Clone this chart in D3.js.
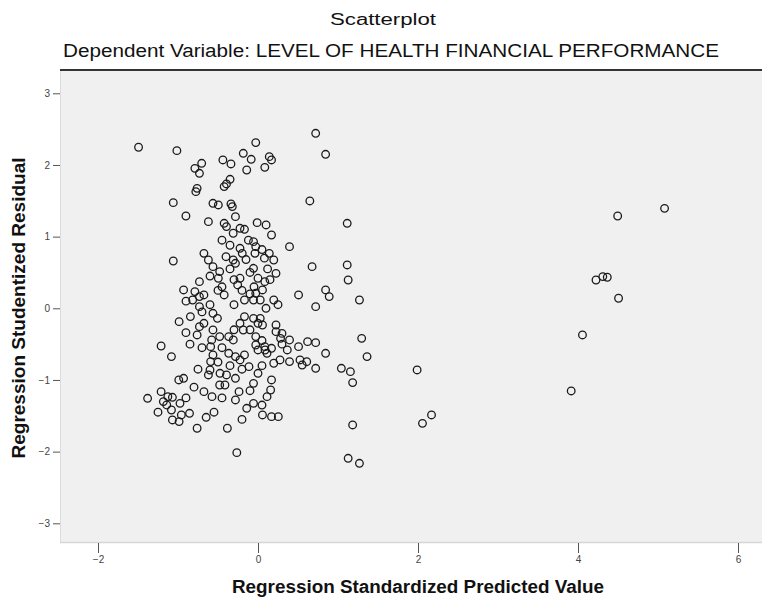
<!DOCTYPE html>
<html>
<head>
<meta charset="utf-8">
<script src="https://cdn.jsdelivr.net/npm/d3@7"></script>
<style>
  html, body { margin: 0; padding: 0; background: #ffffff; }
  svg { display: block; font-family: "Liberation Sans", Arial, sans-serif; }
</style>
</head>
<body>
<svg id="chart" width="762" height="609"></svg>
<script>
// Regression Standardized Predicted Value (x) for each case
const predicted = [
  -1.493, -1.014, -0.028, 0.721, 0.845, -0.789, -0.704, -0.732, -0.439, -0.338,
  -0.085, -0.141, 0.085, 0.141, 0.169, -0.394, -0.349, -0.423, -0.777, -0.761,
  -1.059, -0.563, -0.496, -0.338, -0.321, 0.648, -0.901, -0.620, -0.423, -0.394,
  -0.282, -0.225, -0.310, -0.169, -0.011, 0.101, 0.169, 1.115, 4.496, 5.082,
  0.394, -0.056, -0.028, -0.225, -0.197, -0.676, -0.620, -0.310, -0.282, 0.141,
  0.197, -1.059, 0.676, 1.115, -0.563, -0.479, -0.496, 0.225, -0.056, -0.225,
  0.000, 0.085, 1.127, -0.254, 4.225, 4.310, 4.366, 4.507, -0.732, -0.930,
  -0.789, -0.732, -0.817, -0.676, -0.423, -0.169, -0.056, 0.028, 0.197, 0.507,
  0.845, 0.890, 1.268, 0.721, -0.732, 0.056, -0.028, -0.986, -0.845, -0.901,
  -0.732, -0.761, -0.676, -0.563, -0.507, -0.563, -0.479, -0.366, -0.225, -0.169,
  -0.056, 0.000, 0.028, 0.056, 0.225, 0.225, -0.028, 0.282, 0.394, 1.296,
  4.056, -1.211, -1.082, -0.592, -0.563, -0.366, -0.282, -0.225, -0.169, -0.028,
  0.000, 0.085, 0.169, 0.113, 0.366, 0.507, 0.620, 0.721, 0.845, 1.363,
  0.197, 0.394, 0.552, 0.721, -0.113, -0.592, 1.042, 1.155, 1.183, 1.989,
  -0.930, -0.620, -0.394, -0.282, 0.000, 0.169, -0.479, -0.056, 0.158, 3.915,
  -1.380, -1.211, -1.127, -1.070, -1.183, -0.676, -0.575, -0.237, -0.282, -0.056,
  0.113, -0.141, -1.082, -1.070, -0.958, -0.856, -0.648, -0.986, -0.761, -0.383,
  0.056, 0.169, 0.254, 1.183, 2.056, 2.169, -0.265, 1.127, 1.268,
  -0.579, -0.600, -0.475, -0.990, -1.141, -0.975, -0.184, 0.300, -0.309, 0.088,
  0.525, 0.609, 0.275, -0.413, -0.184, -0.038,
  -0.450, -0.350, -0.120, 0.050, -0.400, -0.150, 0.080, -0.350, -0.100, 0.120,
  -0.600, -0.300, 0.150, -0.050, -0.450, -0.200,
  -0.900, -0.600, -0.500, -0.300, -0.100, 0.100, 0.250, -0.700,
  -0.850, -0.700, -0.450, -0.300, -0.100, 0.050, 0.300, -0.500, -0.200, 0.050,
  -0.750, -0.350,
  -0.800, -0.450, -0.100, 0.050, -0.900, -1.250, -0.550, -0.200
];

// Regression Studentized Residual (y) for each case
const residual = [
  2.247, 2.200, 2.312, 2.442, 2.149, 1.953, 2.023, 1.884, 2.070, 2.014,
  2.079, 1.930, 1.967, 2.116, 2.070, 1.735, 1.800, 1.698, 1.628, 1.674,
  1.474, 1.465, 1.442, 1.456, 1.419, 1.498, 1.288, 1.209, 1.186, 1.140,
  1.279, 1.116, 1.047, 1.102, 1.195, 1.163, 1.023, 1.186, 1.288, 1.395,
  0.860, 0.930, 0.860, 0.837, 0.767, 0.767, 0.674, 0.674, 0.628, 0.767,
  0.674, 0.660, 0.581, 0.605, 0.581, 0.512, 0.419, 0.488, 0.558, 0.419,
  0.419, 0.372, 0.395, 0.326, 0.395, 0.442, 0.433, 0.140, 0.372, 0.256,
  0.233, 0.163, 0.116, 0.186, 0.186, 0.116, 0.116, 0.116, 0.116, 0.186,
  0.256, 0.163, 0.116, 0.023, 0.023, 0.256, 0.209, -0.186, -0.116, -0.340,
  -0.256, -0.372, -0.209, -0.070, -0.140, -0.302, -0.395, -0.395, -0.209, -0.116,
  -0.140, -0.209, -0.140, -0.233, -0.233, -0.326, -0.395, -0.419, -0.442, -0.419,
  -0.372, -0.526, -0.674, -0.535, -0.651, -0.628, -0.674, -0.721, -0.651, -0.512,
  -0.581, -0.535, -0.558, -0.628, -0.581, -0.535, -0.465, -0.479, -0.628, -0.674,
  -0.767, -0.744, -0.791, -0.837, -0.814, -0.744, -0.837, -0.884, -1.037, -0.860,
  -0.977, -0.930, -0.930, -0.977, -0.907, -1.000, -1.070, -1.047, -1.140, -1.153,
  -1.256, -1.163, -1.233, -1.242, -1.302, -1.163, -1.233, -1.163, -1.279, -1.326,
  -1.233, -1.395, -1.419, -1.558, -1.488, -1.465, -1.521, -1.581, -1.674, -1.674,
  -1.488, -1.512, -1.512, -1.628, -1.605, -1.488, -2.014, -2.093, -2.163,
  -0.442, -0.861, -0.907, -1.000, -1.349, -1.326, -0.303, -0.350, -0.442, -0.582,
  -0.721, -0.745, -0.721, -1.070, 2.163, 0.767,
  0.950, 0.880, 0.950, 0.820, 0.720, 0.680, 0.700, 0.550, 0.500, 0.550,
  0.450, 0.400, 0.400, 0.300, 0.300, 0.250,
  0.100, 0.050, 0.250, 0.050, 0.200, 0.000, 0.050, -0.050,
  -0.500, -0.550, -0.550, -0.300, -0.300, -0.450, -0.500, -0.750, -0.850, -0.800,
  -0.850, -0.800,
  -1.100, -1.250, -1.150, -1.350, -1.250, -1.450, -1.450, -1.550
];

const xTicks = [-2, 0, 2, 4, 6];
const yTicks = [3, 2, 1, 0, -1, -2, -3];

const chartTitle = "Scatterplot";
const chartSubtitle = "Dependent Variable: LEVEL OF HEALTH FINANCIAL PERFORMANCE";
const xTitle = "Regression Standardized Predicted Value";
const yTitle = "Regression Studentized Residual";

const svg = d3.select("#chart");

// plot frame
const frame = { left: 60, right: 762, top: 70, bottom: 543 };

const x = d3.scaleLinear().domain([-2, 6]).range([98, 738]);
const y = d3.scaleLinear().domain([-3, 3]).range([523.3, 93.3]);

// plot background
svg.append("rect")
  .attr("x", frame.left)
  .attr("y", frame.top)
  .attr("width", frame.right - frame.left)
  .attr("height", frame.bottom - frame.top)
  .attr("fill", "#f0f0f0");

// frame edges
svg.append("line")
  .attr("x1", frame.left + 0.5).attr("x2", frame.left + 0.5)
  .attr("y1", frame.top).attr("y2", frame.bottom)
  .attr("stroke", "#dcdcdc").attr("stroke-width", 1);
svg.append("line")
  .attr("x1", frame.left).attr("x2", frame.right)
  .attr("y1", frame.bottom - 0.5).attr("y2", frame.bottom - 0.5)
  .attr("stroke", "#d6d6d6").attr("stroke-width", 1.5);
svg.append("line")
  .attr("x1", frame.left).attr("x2", frame.right)
  .attr("y1", frame.top).attr("y2", frame.top)
  .attr("stroke", "#333333").attr("stroke-width", 2);

// y axis
const yAxis = d3.axisLeft(y)
  .tickValues(yTicks)
  .tickSize(7)
  .tickPadding(3)
  .tickFormat(d3.format("d"));
const gy = svg.append("g")
  .attr("transform", `translate(${frame.left},0)`)
  .call(yAxis);
gy.select(".domain").remove();
gy.selectAll(".tick line").attr("stroke", "#555").attr("stroke-width", 1);
gy.selectAll(".tick text")
  .attr("fill", "#444")
  .style("font-size", "10px")
  .style("font-family", "'Liberation Sans', Arial, sans-serif");

// x axis
const xAxis = d3.axisBottom(x)
  .tickValues(xTicks)
  .tickSize(10)
  .tickPadding(3)
  .tickFormat(d3.format("d"));
const gx = svg.append("g")
  .attr("transform", `translate(0,${frame.bottom})`)
  .call(xAxis);
gx.select(".domain").remove();
gx.selectAll(".tick line").attr("stroke", "#555").attr("stroke-width", 1);
gx.selectAll(".tick text")
  .attr("fill", "#444")
  .style("font-size", "10px")
  .style("font-family", "'Liberation Sans', Arial, sans-serif");

// points
const points = predicted.map((p, i) => ({ p, r: residual[i] }));
svg.append("g")
  .selectAll("circle")
  .data(points)
  .join("circle")
  .attr("cx", d => x(d.p))
  .attr("cy", d => y(d.r))
  .attr("r", 3.8)
  .attr("fill", "none")
  .attr("stroke", "#1a1a1a")
  .attr("stroke-width", 1.3);

// titles
svg.append("text")
  .attr("x", 383).attr("y", 25)
  .attr("text-anchor", "middle")
  .attr("textLength", 106)
  .attr("lengthAdjust", "spacingAndGlyphs")
  .attr("fill", "#111")
  .style("font-size", "16px")
  .text(chartTitle);

svg.append("text")
  .attr("x", 391).attr("y", 57)
  .attr("text-anchor", "middle")
  .attr("textLength", 656)
  .attr("lengthAdjust", "spacingAndGlyphs")
  .attr("fill", "#111")
  .style("font-size", "18px")
  .text(chartSubtitle);

svg.append("text")
  .attr("x", 418).attr("y", 593)
  .attr("text-anchor", "middle")
  .attr("textLength", 372)
  .attr("lengthAdjust", "spacingAndGlyphs")
  .attr("fill", "#111")
  .style("font-size", "18px")
  .style("font-weight", "bold")
  .text(xTitle);

svg.append("text")
  .attr("transform", "translate(25,308) rotate(-90)")
  .attr("text-anchor", "middle")
  .attr("textLength", 301)
  .attr("lengthAdjust", "spacingAndGlyphs")
  .attr("fill", "#111")
  .style("font-size", "18px")
  .style("font-weight", "bold")
  .text(yTitle);
</script>
</body>
</html>
